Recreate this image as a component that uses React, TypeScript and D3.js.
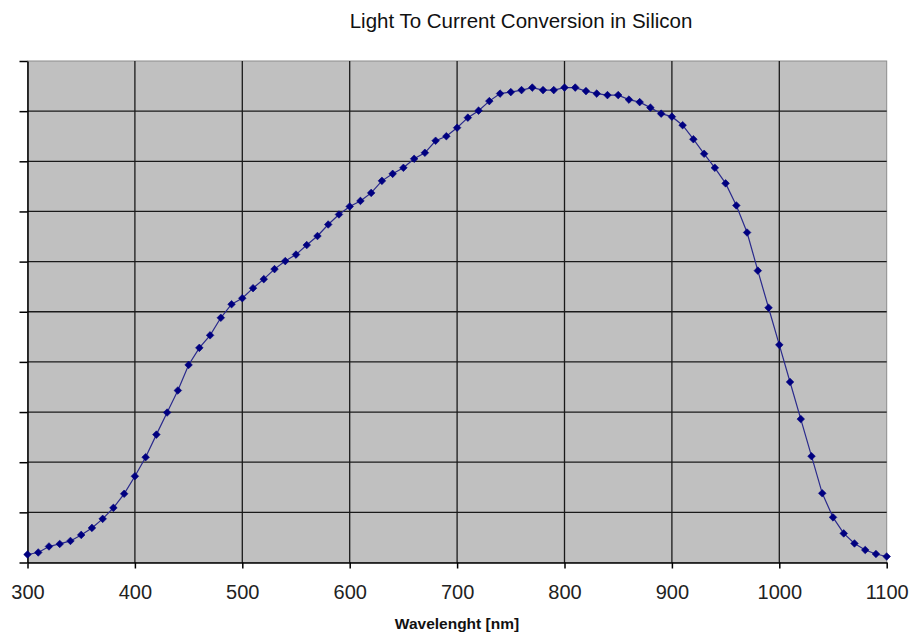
import React, { useEffect, useRef } from 'react';
import * as d3 from 'd3';

// wavelength in nm, every 10 nm
const wavelengths: number[] = d3.range(300, 1101, 10);

// relative response (0..100, one grid division = 10)
const response: number[] = [
  1.6, 2.0, 3.2, 3.7, 4.3, 5.5, 6.9, 8.7, 10.9, 13.7,
  17.2, 21.0, 25.5, 29.9, 34.3, 39.4, 42.8, 45.3, 48.8, 51.5,
  52.7, 54.7, 56.5, 58.5, 60.1, 61.4, 63.3, 65.1, 67.4, 69.4,
  71.0, 72.1, 73.7, 76.1, 77.5, 78.7, 80.5, 81.7, 84.1, 85.0,
  86.7, 88.7, 90.1, 92.0, 93.5, 93.8, 94.2, 94.7, 94.2, 94.2,
  94.7, 94.7, 94.0, 93.5, 93.2, 93.2, 92.3, 91.8, 90.7, 89.5,
  88.9, 87.2, 84.4, 81.5, 78.7, 75.6, 71.2, 65.8, 58.2, 50.8,
  43.4, 36.0, 28.6, 21.2, 13.8, 9.0, 5.8, 3.8, 2.5, 1.7,
  1.2,
];

const xTicks: number[] = [300, 400, 500, 600, 700, 800, 900, 1000, 1100];
const yTicks: number[] = d3.range(0, 101, 10);

const title = 'Light To Current Conversion in Silicon';
const xLabel = 'Wavelenght [nm]';

const App: React.FC = () => {
  const svgRef = useRef<SVGSVGElement>(null);

  useEffect(() => {
    if (!svgRef.current) return;
    const svg = d3.select(svgRef.current);
    svg.selectAll('*').remove();

    const left = 27.5, right = 886.7, top = 61, bottom = 562.5;
    const font = 'Arial, "Liberation Sans", sans-serif';

    const x = d3.scaleLinear().domain([300, 1100]).range([left, right]);
    const y = d3.scaleLinear().domain([0, 100]).range([bottom, top]);

    // plot area
    svg.append('rect')
      .attr('x', left).attr('y', top)
      .attr('width', right - left).attr('height', bottom - top)
      .attr('fill', '#c0c0c0')
      .attr('stroke', '#8c8c8c')
      .attr('stroke-width', 1);

    // grid
    svg.append('g')
      .selectAll('line')
      .data(yTicks.slice(1, -1))
      .enter()
      .append('line')
      .attr('x1', left).attr('x2', right)
      .attr('y1', d => y(d)).attr('y2', d => y(d))
      .attr('stroke', '#1a1a1a')
      .attr('stroke-width', 1.3);

    svg.append('g')
      .selectAll('line')
      .data(xTicks.slice(1, -1))
      .enter()
      .append('line')
      .attr('x1', d => x(d)).attr('x2', d => x(d))
      .attr('y1', top).attr('y2', bottom)
      .attr('stroke', '#1a1a1a')
      .attr('stroke-width', 1.3);

    // y axis: ticks only, no labels
    const yAxis = svg.append('g')
      .attr('transform', `translate(${left},0)`)
      .call(d3.axisLeft(y).tickValues(yTicks).tickSize(8).tickFormat(() => '').tickSizeOuter(0));
    yAxis.select('.domain').attr('stroke', '#000').attr('stroke-width', 1.5);
    yAxis.selectAll('.tick line').attr('stroke', '#000').attr('stroke-width', 1.5);

    // x axis
    const xAxis = svg.append('g')
      .attr('transform', `translate(0,${bottom})`)
      .call(d3.axisBottom(x).tickValues(xTicks).tickSize(6).tickSizeOuter(0).tickFormat(d3.format('d')));
    xAxis.select('.domain').attr('stroke', '#000').attr('stroke-width', 1.5);
    xAxis.selectAll('.tick line').attr('stroke', '#000').attr('stroke-width', 1.5);
    xAxis.selectAll('.tick text')
      .attr('font-family', font)
      .attr('font-size', '20px')
      .attr('fill', '#222')
      .attr('y', 22)
      .attr('dy', '0.71em');

    const points = wavelengths.map((w, i) => [w, response[i]] as [number, number]);

    // line
    const line = d3.line<[number, number]>()
      .x(d => x(d[0]))
      .y(d => y(d[1]));

    svg.append('path')
      .datum(points)
      .attr('d', line)
      .attr('fill', 'none')
      .attr('stroke', '#2a2a8c')
      .attr('stroke-width', 1.2);

    // diamond markers
    svg.append('g')
      .selectAll('path')
      .data(points)
      .enter()
      .append('path')
      .attr('d', 'M0,-3.8L3.8,0L0,3.8L-3.8,0Z')
      .attr('transform', d => `translate(${x(d[0])},${y(d[1])})`)
      .attr('fill', '#000080')
      .attr('stroke', '#000080')
      .attr('stroke-width', 0.6);

    // title
    svg.append('text')
      .attr('x', 521)
      .attr('y', 28)
      .attr('text-anchor', 'middle')
      .attr('font-family', font)
      .attr('font-size', '20.5px')
      .attr('fill', '#111')
      .text(title);

    // x axis label
    svg.append('text')
      .attr('x', 457)
      .attr('y', 629)
      .attr('text-anchor', 'middle')
      .attr('font-family', font)
      .attr('font-weight', 'bold')
      .attr('font-size', '15.5px')
      .attr('fill', '#111')
      .text(xLabel);
  }, []);

  return (
    <svg
      ref={svgRef}
      width={910}
      height={635}
      style={{ position: 'absolute', left: 0, top: 0, background: '#fff' }}
    />
  );
};

export default App;
